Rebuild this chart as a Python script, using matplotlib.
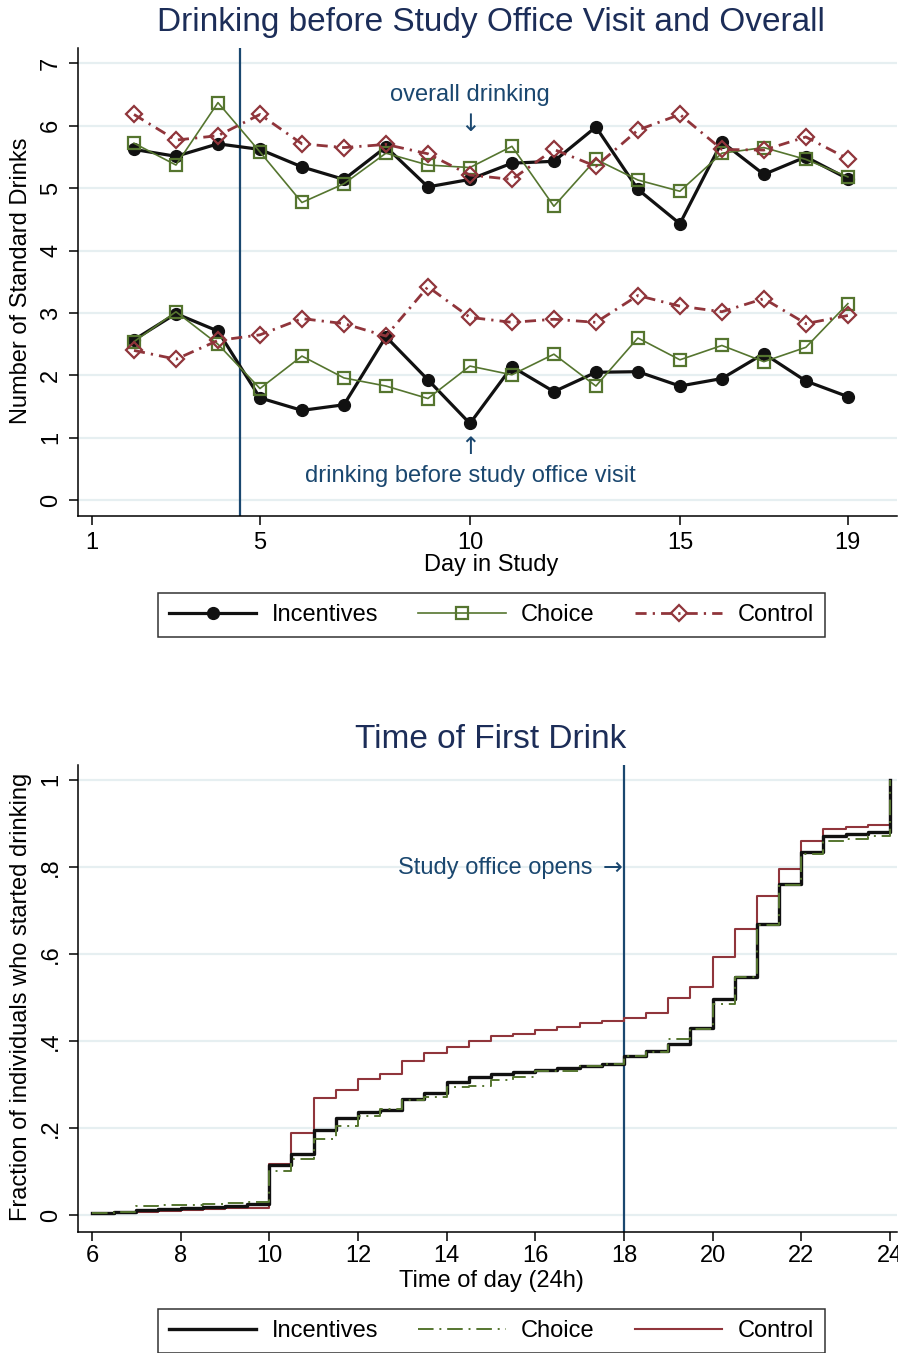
import matplotlib
matplotlib.use("Agg")
import matplotlib.pyplot as plt
from matplotlib.lines import Line2D

plt.rcParams['font.family'] = ['Liberation Sans', 'DejaVu Sans']

# --- Data: drinks per day (top panel) ---
days = [2, 3, 4, 5, 6, 7, 8, 9, 10, 11, 12, 13, 14, 15, 16, 17, 18, 19]
inc_overall = [5.62, 5.51, 5.71, 5.62, 5.34, 5.14, 5.66, 5.02, 5.14, 5.40, 5.43, 5.98, 4.98, 4.43, 5.74, 5.22, 5.50, 5.15]
cho_overall = [5.72, 5.37, 6.37, 5.58, 4.77, 5.07, 5.56, 5.37, 5.33, 5.67, 4.71, 5.46, 5.13, 4.95, 5.56, 5.65, 5.46, 5.18]
con_overall = [6.18, 5.77, 5.84, 6.18, 5.71, 5.65, 5.70, 5.55, 5.21, 5.14, 5.62, 5.35, 5.93, 6.18, 5.62, 5.61, 5.82, 5.47]
inc_before = [2.57, 2.99, 2.71, 1.64, 1.44, 1.53, 2.62, 1.93, 1.23, 2.14, 1.74, 2.05, 2.06, 1.83, 1.95, 2.35, 1.91, 1.66]
cho_before = [2.54, 3.02, 2.50, 1.79, 2.31, 1.96, 1.83, 1.63, 2.15, 2.01, 2.34, 1.83, 2.60, 2.25, 2.48, 2.22, 2.45, 3.15]
con_before = [2.40, 2.26, 2.56, 2.65, 2.91, 2.83, 2.63, 3.42, 2.93, 2.85, 2.90, 2.85, 3.28, 3.11, 3.02, 3.23, 2.83, 2.96]

# --- Data: cumulative fraction started drinking (bottom panel) ---
hours = [6.0, 6.5, 7.0, 7.5, 8.0, 8.5, 9.0, 9.5, 10.0, 10.5, 11.0, 11.5, 12.0, 12.5,
         13.0, 13.5, 14.0, 14.5, 15.0, 15.5, 16.0, 16.5, 17.0, 17.5, 18.0, 18.5,
         19.0, 19.5, 20.0, 20.5, 21.0, 21.5, 22.0, 22.5, 23.0, 23.5, 24.0]
inc_cdf = [0.004, 0.008, 0.012, 0.014, 0.016, 0.018, 0.021, 0.025, 0.114, 0.141, 0.196, 0.224,
           0.237, 0.241, 0.266, 0.281, 0.305, 0.317, 0.323, 0.328, 0.334, 0.338, 0.342, 0.347,
           0.365, 0.376, 0.394, 0.430, 0.497, 0.548, 0.669, 0.760, 0.835, 0.870, 0.876, 0.880, 1.0]
cho_cdf = [0.005, 0.006, 0.020, 0.022, 0.024, 0.026, 0.028, 0.030, 0.101, 0.128, 0.174, 0.204,
           0.227, 0.244, 0.265, 0.272, 0.294, 0.297, 0.311, 0.317, 0.330, 0.332, 0.342, 0.348,
           0.365, 0.374, 0.404, 0.428, 0.484, 0.546, 0.667, 0.758, 0.830, 0.860, 0.864, 0.872, 1.0]
con_cdf = [0.003, 0.005, 0.008, 0.010, 0.011, 0.014, 0.015, 0.016, 0.117, 0.189, 0.268, 0.288,
           0.312, 0.323, 0.353, 0.372, 0.385, 0.399, 0.412, 0.416, 0.426, 0.432, 0.441, 0.445,
           0.453, 0.465, 0.498, 0.525, 0.592, 0.658, 0.732, 0.796, 0.860, 0.886, 0.892, 0.895, 1.0]

# colours (Stata s2color-ish)
C_INC = '#111111'
C_CHO = '#55752f'
C_CON = '#90353b'
C_REF = '#1a476f'
C_TITLE = '#1c2d58'
C_GRID = '#e6eff1'

W, H = 898, 1353
fig = plt.figure(figsize=(W / 100, H / 100), dpi=100)


def style_axes(ax, xpad):
    for s in ['top', 'right']:
        ax.spines[s].set_visible(False)
    for s in ['left', 'bottom']:
        ax.spines[s].set_linewidth(1.1)
    ax.tick_params(axis='both', direction='out', length=6.5, width=1.1, labelsize=17)
    ax.tick_params(axis='x', pad=xpad)
    ax.tick_params(axis='y', pad=5)
    ax.yaxis.grid(True, color=C_GRID, lw=1.6)
    ax.set_axisbelow(True)


# ---------------- top panel ----------------
ax1 = fig.add_axes([78 / W, 1 - 515.7 / H, (897 - 78) / W, (515.7 - 48.3) / H])
style_axes(ax1, 5)
ax1.set_xlim(0.667, 20.17)
ax1.set_ylim(-0.247, 7.24)

dashdot = (0, (4, 2.2, 0.8, 2.2))
for ys in (inc_overall, inc_before):
    ax1.plot(days, ys, color=C_INC, lw=2.3, marker='o', ms=8.5, zorder=3)
for ys in (cho_overall, cho_before):
    ax1.plot(days, ys, color=C_CHO, lw=1.2, marker='s', ms=8.3, mfc='none',
             mec=C_CHO, mew=1.6, zorder=4)
for ys in (con_overall, con_before):
    ax1.plot(days, ys, color=C_CON, lw=2.0, ls=dashdot, marker='D', ms=8.0, mfc='none',
             mec=C_CON, mew=1.6, zorder=5)

ax1.axvline(4.52, color=C_REF, lw=1.6, zorder=2)
ax1.set_xticks([1, 5, 10, 15, 19])
ax1.set_yticks(range(0, 8))
ax1.set_yticklabels([str(v) for v in range(0, 8)], rotation=90, va='center')

ax1.text(10, 6.49, 'overall drinking', color=C_REF, fontsize=17, ha='center', va='center')
ax1.text(10, 6.03, '\u2193', color=C_REF, fontsize=17, ha='center', va='center',
         family='DejaVu Sans')
ax1.text(10, 0.86, '\u2191', color=C_REF, fontsize=17, ha='center', va='center',
         family='DejaVu Sans')
ax1.text(10, 0.39, 'drinking before study office visit', color=C_REF, fontsize=17,
         ha='center', va='center')

fig.text(491 / W, 1 - 22 / H, 'Drinking before Study Office Visit and Overall',
         color=C_TITLE, fontsize=24, ha='center', va='center')
fig.text(491 / W, 1 - 565 / H, 'Day in Study', fontsize=17, ha='center', va='center')
fig.text(21 / W, 1 - 281 / H, 'Number of Standard Drinks', fontsize=17, rotation=90,
         ha='center', va='center')

h_top = [
    Line2D([], [], color=C_INC, lw=2.3, marker='o', ms=8.5),
    Line2D([], [], color=C_CHO, lw=1.2, marker='s', ms=8.3, mfc='none', mec=C_CHO, mew=1.6),
    Line2D([], [], color=C_CON, lw=2.0, ls=dashdot, marker='D', ms=8.0, mfc='none', mec=C_CON, mew=1.6),
]
leg1 = fig.legend(h_top, ['Incentives', 'Choice', 'Control'], loc='center',
                  bbox_to_anchor=(491.5 / W, 1 - 615 / H), ncol=3, fontsize=17,
                  frameon=True, fancybox=False, edgecolor='black', handlelength=3.7,
                  handletextpad=0.65, columnspacing=1.7, borderpad=0.45)
leg1.get_frame().set_linewidth(1.1)

# ---------------- bottom panel ----------------
ax2 = fig.add_axes([78 / W, 1 - 1232 / H, (897 - 78) / W, (1232 - 765) / H])
style_axes(ax2, 3)
ax2.set_xlim(5.684, 24.16)
ax2.set_ylim(-0.039, 1.034)

cdf_dash = (0, (8, 3, 1, 3))
ax2.step(hours, con_cdf, where='post', color=C_CON, lw=1.5, zorder=3)
ax2.step(hours, inc_cdf, where='post', color=C_INC, lw=2.4, zorder=4)
ax2.step(hours, cho_cdf, where='post', color=C_CHO, lw=1.4, ls=cdf_dash, zorder=5)

ax2.axvline(18, color=C_REF, lw=1.6, zorder=2)
ax2.set_xticks(range(6, 25, 2))
ax2.set_yticks([0, 0.2, 0.4, 0.6, 0.8, 1.0])
ax2.set_yticklabels(['0', '.2', '.4', '.6', '.8', '1'], rotation=90, va='center')

ax2.text(17.3, 0.798, 'Study office opens', color=C_REF, fontsize=17,
         ha='right', va='center')
ax2.text(17.96, 0.798, '\u2192', color=C_REF, fontsize=17, ha='right', va='center',
         family='DejaVu Sans')

fig.text(491 / W, 1 - 740 / H, 'Time of First Drink', color=C_TITLE, fontsize=24,
         ha='center', va='center')
fig.text(491 / W, 1 - 1281 / H, 'Time of day (24h)', fontsize=17, ha='center', va='center')
fig.text(21 / W, 1 - 997 / H, 'Fraction of individuals who started drinking', fontsize=17,
         rotation=90, ha='center', va='center')

h_bot = [
    Line2D([], [], color=C_INC, lw=2.4),
    Line2D([], [], color=C_CHO, lw=1.4, ls=cdf_dash),
    Line2D([], [], color=C_CON, lw=1.5),
]
leg2 = fig.legend(h_bot, ['Incentives', 'Choice', 'Control'], loc='center',
                  bbox_to_anchor=(491.5 / W, 1 - 1331 / H), ncol=3, fontsize=17,
                  frameon=True, fancybox=False, edgecolor='black', handlelength=3.7,
                  handletextpad=0.65, columnspacing=1.7, borderpad=0.45)
leg2.get_frame().set_linewidth(1.1)

fig.savefig('out.png', dpi=100, facecolor='white')
